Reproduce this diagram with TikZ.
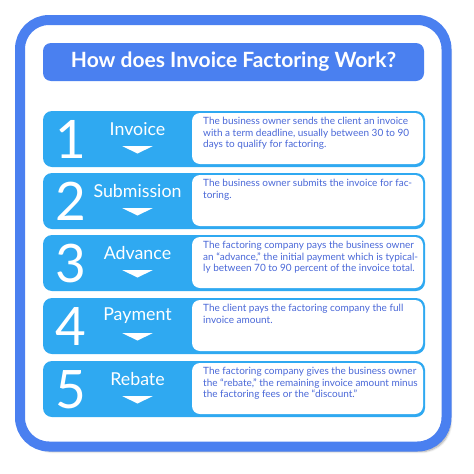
\documentclass[tikz,border=0pt]{standalone}
\usepackage{fontspec}
\setmainfont{Lato}
\usetikzlibrary{positioning,shadows.blur}
\definecolor{frameblue}{HTML}{4A80F0}
\definecolor{rowblue}{HTML}{2FA9F1}
\definecolor{textblue}{HTML}{4A68D8}
\tikzset{font=\footnotesize}
\tikzstyle{stepbar}=[fill=rowblue,rounded corners=9pt,minimum width=382pt,minimum height=56pt,inner sep=0pt]
\tikzstyle{descbox}=[fill=white,rounded corners=8pt,minimum width=231pt,minimum height=51pt,inner sep=0pt]
\tikzstyle{num}=[text=white,font=\fontsize{53}{53}\selectfont,inner sep=0pt]
\tikzstyle{stepname}=[text=white,font=\fontsize{17.8}{17.8}\selectfont,inner sep=0pt]
\tikzstyle{desc}=[text=textblue,font=\fontsize{10}{11.7}\selectfont,align=left,anchor=north west,inner sep=0pt]

\begin{document}
\begin{tikzpicture}[x=1pt,y=-1pt]
\useasboundingbox (0,0) rectangle (474,474);
\draw[frameblue,line width=10pt,fill=white,rounded corners=29pt,
  blur shadow={shadow xshift=4pt,shadow yshift=-5pt,shadow blur steps=6,shadow opacity=35}]
  (20,20) rectangle (446.5,446.5);
\node (T) [fill=frameblue,rounded corners=8pt,minimum width=381pt,minimum height=38pt,
  text=white,font=\bfseries\fontsize{21}{21}\selectfont] at (233.5,62) {How does Invoice Factoring Work?};

\node (R1) [stepbar] at (234,139) {};
\node (R2) [stepbar] at (234,201) {};
\node (R3) [stepbar] at (234,263) {};
\node (R4) [stepbar] at (234,326) {};
\node (R5) [stepbar] at (234,389) {};

\node (B1) [descbox] at (307.5,138.5) {};
\node (B2) [descbox] at (307.5,200.5) {};
\node (B3) [descbox] at (307.5,262.5) {};
\node (B4) [descbox] at (307.5,325.5) {};
\node (B5) [descbox] at (307.5,388.5) {};

\node (N1) [num] at (70.5,139.5) {1};
\node (N2) [num] at (70.5,201.5) {2};
\node (N3) [num] at (70.5,263.5) {3};
\node (N4) [num] at (70.5,326.5) {4};
\node (N5) [num] at (70.5,389.5) {5};

\node (L1) [stepname] at (137.5,129) {Invoice};
\node (L2) [stepname] at (137.5,191) {Submission};
\node (L3) [stepname] at (137.5,253) {Advance};
\node (L4) [stepname] at (137.5,316) {Payment};
\node (L5) [stepname] at (137.5,379) {Rebate};

\foreach \i/\y in {1/146,2/208,3/270,4/333,5/396}
  \fill[white] (122,\y) -- (153,\y) -- (137.5,\y+7.5) -- cycle;

\node (D1) [desc] at (203,117) {The business owner sends the client an invoice\\with a term deadline, usually between 30 to 90\\days to qualify for factoring.};
\node (D2) [desc] at (203,179) {The business owner submits the invoice for fac-\\toring.};
\node (D3) [desc] at (203,241) {The factoring company pays the business owner\\an ``advance,'' the initial payment which is typical-\\ly between 70 to 90 percent of the invoice total.};
\node (D4) [desc] at (203,304) {The client pays the factoring company the full\\invoice amount.};
\node (D5) [desc] at (203,367) {The factoring company gives the business owner\\the ``rebate,'' the remaining invoice amount minus\\the factoring fees or the ``discount.''};
\end{tikzpicture}
\end{document}
